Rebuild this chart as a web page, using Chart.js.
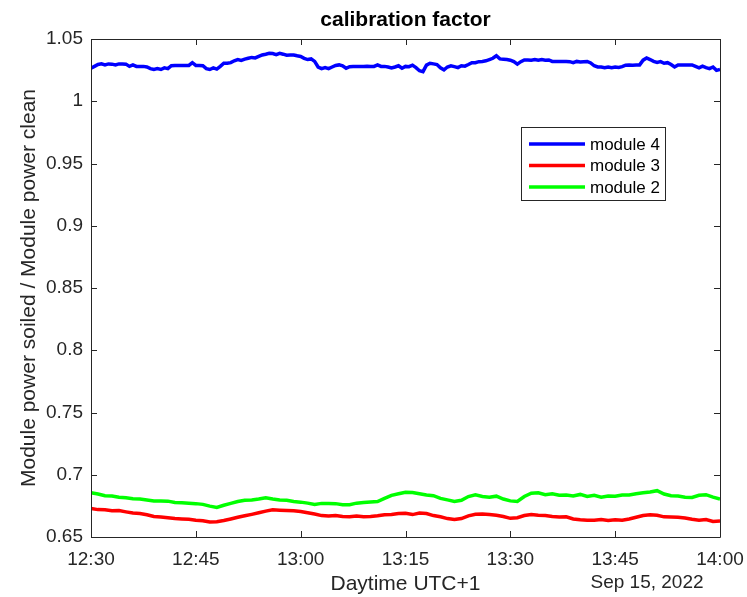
<!DOCTYPE html>
<html>
<head>
<meta charset="utf-8">
<script src="https://cdn.jsdelivr.net/npm/chart.js@4.4.1/dist/chart.umd.min.js"></script>
<style>
  html, body { margin: 0; padding: 0; background: #fff; }
  #wrap { width: 747px; height: 597px; position: relative; }
</style>
</head>
<body>
<div id="wrap"><canvas id="c" width="747" height="597"></canvas></div>
<script>
// Ratio of soiled to clean module power, 15 Sep 2022, 12:30 - 14:00 (UTC+1)
const startLabel = [12, 30];           // axis origin, hh:mm
const spanMinutes = 90;
const tickStepMinutes = 15;
const yTicks = [0.65, 0.7, 0.75, 0.8, 0.85, 0.9, 0.95, 1, 1.05];
const seriesLabels = ['module 4', 'module 3', 'module 2'];
const dateLabel = 'Sep 15, 2022';

// module 4, sampled every 30 s
const module4Step = 0.5;
const module4 = [
  1.0265, 1.0280, 1.0295, 1.0300, 1.0292, 1.0300, 1.0298, 1.0292, 1.0300, 1.0300,
  1.0298, 1.0280, 1.0292, 1.0280, 1.0280, 1.0280, 1.0275, 1.0262, 1.0255, 1.0262,
  1.0255, 1.0268, 1.0262, 1.0285, 1.0288, 1.0288, 1.0288, 1.0288, 1.0288, 1.0310,
  1.0288, 1.0288, 1.0285, 1.0262, 1.0255, 1.0268, 1.0258, 1.0280, 1.0305, 1.0305,
  1.0310, 1.0325, 1.0335, 1.0328, 1.0338, 1.0345, 1.0352, 1.0348, 1.0360, 1.0372,
  1.0378, 1.0385, 1.0383, 1.0375, 1.0385, 1.0378, 1.0370, 1.0372, 1.0372, 1.0365,
  1.0360, 1.0345, 1.0335, 1.0340, 1.0320, 1.0275, 1.0262, 1.0270, 1.0262, 1.0275,
  1.0288, 1.0292, 1.0285, 1.0265, 1.0278, 1.0280, 1.0280, 1.0280, 1.0280, 1.0282,
  1.0280, 1.0280, 1.0292, 1.0280, 1.0280, 1.0275, 1.0268, 1.0275, 1.0285, 1.0265,
  1.0280, 1.0278, 1.0290, 1.0270, 1.0245, 1.0238, 1.0290, 1.0305, 1.0300, 1.0295,
  1.0268, 1.0252, 1.0275, 1.0285, 1.0278, 1.0270, 1.0285, 1.0282, 1.0295, 1.0310,
  1.0310, 1.0318, 1.0320, 1.0325, 1.0335, 1.0345, 1.0365, 1.0340, 1.0338, 1.0335,
  1.0330, 1.0318, 1.0298, 1.0318, 1.0332, 1.0332, 1.0330, 1.0335, 1.0330, 1.0335,
  1.0330, 1.0332, 1.0320, 1.0320, 1.0320, 1.0320, 1.0320, 1.0318, 1.0310, 1.0320,
  1.0315, 1.0318, 1.0320, 1.0308, 1.0285, 1.0275, 1.0275, 1.0270, 1.0275, 1.0270,
  1.0275, 1.0272, 1.0278, 1.0290, 1.0292, 1.0290, 1.0292, 1.0292, 1.0330, 1.0348,
  1.0335, 1.0320, 1.0312, 1.0318, 1.0305, 1.0310, 1.0295, 1.0275, 1.0292, 1.0292,
  1.0292, 1.0292, 1.0292, 1.0280, 1.0268, 1.0282, 1.0270, 1.0262, 1.0275, 1.0248,
  1.0255
];

// module 3 and module 2, sampled every minute
const module3Step = 1;
const module3 = [
  0.6730, 0.6720, 0.6718, 0.6710, 0.6712, 0.6702, 0.6692, 0.6688, 0.6678, 0.6665,
  0.6660, 0.6655, 0.6648, 0.6645, 0.6642, 0.6635, 0.6630, 0.6620, 0.6622, 0.6632,
  0.6645, 0.6658, 0.6670, 0.6682, 0.6695, 0.6708, 0.6718, 0.6715, 0.6712, 0.6710,
  0.6705, 0.6695, 0.6685, 0.6672, 0.6668, 0.6672, 0.6665, 0.6662, 0.6668, 0.6662,
  0.6665, 0.6670, 0.6678, 0.6680, 0.6688, 0.6690, 0.6680, 0.6692, 0.6688, 0.6672,
  0.6662, 0.6648, 0.6640, 0.6648, 0.6670, 0.6682, 0.6685, 0.6680, 0.6675, 0.6665,
  0.6650, 0.6655, 0.6672, 0.6680, 0.6675, 0.6672, 0.6665, 0.6660, 0.6662, 0.6645,
  0.6638, 0.6635, 0.6635, 0.6640, 0.6632, 0.6638, 0.6635, 0.6645, 0.6658, 0.6672,
  0.6678, 0.6675, 0.6662, 0.6660, 0.6658, 0.6652, 0.6642, 0.6635, 0.6640, 0.6625,
  0.6628
];

const module2Step = 1;
const module2 = [
  0.6855, 0.6845, 0.6832, 0.6830, 0.6820, 0.6815, 0.6808, 0.6805, 0.6798, 0.6790,
  0.6790, 0.6788, 0.6778, 0.6775, 0.6772, 0.6768, 0.6762, 0.6748, 0.6738, 0.6755,
  0.6770, 0.6785, 0.6795, 0.6798, 0.6805, 0.6815, 0.6805, 0.6798, 0.6795, 0.6785,
  0.6780, 0.6772, 0.6762, 0.6770, 0.6770, 0.6768, 0.6760, 0.6760, 0.6772, 0.6778,
  0.6782, 0.6785, 0.6810, 0.6835, 0.6848, 0.6860, 0.6858, 0.6848, 0.6838, 0.6832,
  0.6810, 0.6798, 0.6785, 0.6795, 0.6825, 0.6838, 0.6825, 0.6820, 0.6828, 0.6805,
  0.6790, 0.6785, 0.6825, 0.6852, 0.6855, 0.6840, 0.6848, 0.6835, 0.6838, 0.6830,
  0.6842, 0.6825, 0.6835, 0.6820, 0.6830, 0.6828, 0.6838, 0.6838, 0.6848, 0.6855,
  0.6862, 0.6872, 0.6845, 0.6832, 0.6830, 0.6820, 0.6818, 0.6835, 0.6840, 0.6820,
  0.6805
];

const seriesColors = ['#0000ff', '#ff0000', '#00ff00'];

function toPoints(values, step) {
  return values.map((v, i) => ({ x: i * step, y: v }));
}

function clockLabel(min) {
  const total = startLabel[0] * 60 + startLabel[1] + min;
  const h = Math.floor(total / 60), m = total % 60;
  return h + ':' + String(m).padStart(2, '0');
}

const INK = '#262626';
const FONT = '"Liberation Sans", Arial, sans-serif';

// axes box, inward ticks on all four sides, titles and the legend box
const decorations = {
  id: 'decorations',
  afterDraw(chart) {
    const { ctx, chartArea: a, scales } = chart;
    const xs = scales.x, ys = scales.y;
    const tl = 6;
    ctx.save();
    ctx.strokeStyle = INK;
    ctx.lineWidth = 1;
    ctx.beginPath();
    ctx.rect(Math.round(a.left) + 0.5, Math.round(a.top) + 0.5,
             Math.round(a.right - a.left), Math.round(a.bottom - a.top));
    ctx.stroke();
    ctx.beginPath();
    xs.ticks.forEach(t => {
      const px = Math.round(xs.getPixelForValue(t.value)) + 0.5;
      ctx.moveTo(px, a.bottom); ctx.lineTo(px, a.bottom - tl);
      ctx.moveTo(px, a.top); ctx.lineTo(px, a.top + tl);
    });
    ys.ticks.forEach(t => {
      const py = Math.round(ys.getPixelForValue(t.value)) + 0.5;
      ctx.moveTo(a.left, py); ctx.lineTo(a.left + tl, py);
      ctx.moveTo(a.right, py); ctx.lineTo(a.right - tl, py);
    });
    ctx.stroke();

    const cx = (a.left + a.right) / 2;
    ctx.fillStyle = '#000';
    ctx.textAlign = 'center';
    ctx.textBaseline = 'middle';
    ctx.font = 'bold 21px ' + FONT;
    ctx.fillText('calibration factor', cx, 20);

    ctx.fillStyle = INK;
    ctx.font = '21px ' + FONT;
    ctx.fillText('Daytime UTC+1', cx, 584);
    ctx.font = '19px ' + FONT;
    ctx.fillText(dateLabel, 647, 583);

    ctx.save();
    ctx.translate(29, (a.top + a.bottom) / 2);
    ctx.rotate(-Math.PI / 2);
    ctx.font = '21px ' + FONT;
    ctx.fillText('Module power soiled / Module power clean', 0, 0);
    ctx.restore();

    // legend
    const lx = 521, ly = 127, lw = 144, lh = 73;
    ctx.fillStyle = '#fff';
    ctx.fillRect(lx, ly, lw, lh);
    ctx.strokeStyle = INK;
    ctx.lineWidth = 1;
    ctx.strokeRect(lx + 0.5, ly + 0.5, lw, lh);
    ctx.font = '17px ' + FONT;
    ctx.textAlign = 'left';
    chart.data.datasets.forEach((ds, i) => {
      const ry = 144 + i * 21.5;
      ctx.strokeStyle = ds.borderColor;
      ctx.lineWidth = 3.5;
      ctx.beginPath();
      ctx.moveTo(529, ry); ctx.lineTo(585, ry);
      ctx.stroke();
      ctx.fillStyle = '#000';
      ctx.fillText(ds.label, 590, ry + 1);
    });
    ctx.restore();
  }
};

new Chart(document.getElementById('c'), {
  type: 'line',
  data: {
    datasets: [
      { label: seriesLabels[0], data: toPoints(module4, module4Step), borderColor: seriesColors[0] },
      { label: seriesLabels[1], data: toPoints(module3, module3Step), borderColor: seriesColors[1] },
      { label: seriesLabels[2], data: toPoints(module2, module2Step), borderColor: seriesColors[2] }
    ].map(d => Object.assign(d, { borderWidth: 3.5, pointRadius: 0, tension: 0, fill: false }))
  },
  options: {
    responsive: false,
    animation: false,
    events: [],
    layout: { padding: { left: 0, right: 27, top: 39, bottom: 0 } },
    plugins: { legend: { display: false }, title: { display: false }, tooltip: { enabled: false } },
    scales: {
      x: {
        type: 'linear', min: 0, max: spanMinutes,
        grid: { display: false, drawTicks: false, tickLength: 0 }, border: { display: false },
        ticks: {
          stepSize: tickStepMinutes, maxRotation: 0, padding: 11, color: INK,
          font: { family: FONT, size: 19 },
          callback: v => clockLabel(v)
        },
        afterFit: s => { s.height = 60; s.paddingLeft = 0; s.paddingRight = 0; }
      },
      y: {
        min: yTicks[0], max: yTicks[yTicks.length - 1],
        grid: { display: false, drawTicks: false, tickLength: 0 }, border: { display: false },
        afterBuildTicks: s => { s.ticks = yTicks.map(v => ({ value: v })); },
        ticks: {
          padding: 8, color: INK,
          font: { family: FONT, size: 19 },
          callback: v => String(Number(v.toFixed(2)))
        },
        afterFit: s => { s.width = 91; s.paddingTop = 0; s.paddingBottom = 0; }
      }
    }
  },
  plugins: [decorations]
});
</script>
</body>
</html>
